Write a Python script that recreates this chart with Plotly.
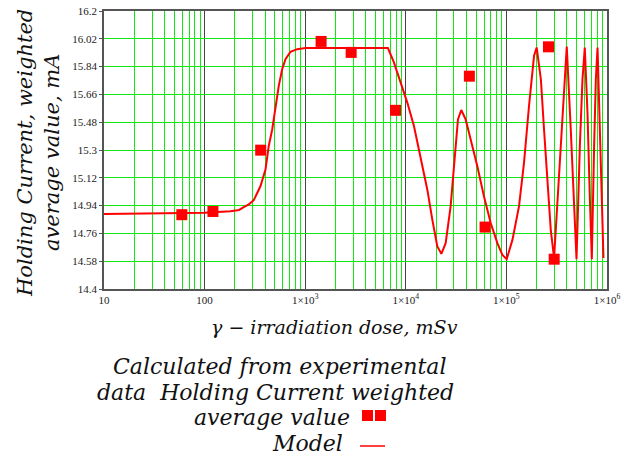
import plotly.graph_objects as go

# Measured (calculated from experiment) holding current, weighted average, mA
exp_dose = [59.4, 121, 361, 1439, 2864, 7909, 42850, 61350, 262000, 298500]
exp_current = [14.881, 14.902, 15.299, 16.003, 15.932, 15.557, 15.778, 14.801, 15.968, 14.593]

# Model curve samples
model_dose = [10, 30, 100, 181, 220, 245, 275, 308, 359, 403, 434, 470, 507, 546, 590, 637, 714,
              832, 1007, 6640, 7620, 8880, 10350, 12050, 14040, 16370, 18360, 20580, 22550, 24900,
              27900, 30600, 33000, 35600, 39350, 44150, 51400, 59800, 69800, 81300, 91200,
              100700, 114800, 133400, 149600, 167800, 188300, 200000, 220100, 236600, 255800,
              276100, 297800, 333700, 360600, 382800, 398100, 436400, 470900, 497700, 537000,
              570600, 601300, 639700, 674500, 706300, 744700, 774500, 805300, 853800, 901600,
              922600]
model_current = [14.886, 14.889, 14.893, 14.903, 14.912, 14.93, 14.948, 14.975, 15.065, 15.173,
                 15.325, 15.433, 15.585, 15.715, 15.823, 15.888, 15.936, 15.953, 15.96, 15.96,
                 15.867, 15.737, 15.607, 15.455, 15.26, 15.043, 14.848, 14.675, 14.628, 14.697,
                 14.935, 15.26, 15.498, 15.559, 15.498, 15.368, 15.195, 15.0, 14.827, 14.697,
                 14.621, 14.593, 14.718, 14.935, 15.217, 15.585, 15.91, 15.964, 15.758, 15.433,
                 15.108, 14.783, 14.6, 15.152, 15.542, 15.823, 15.97, 15.433, 14.892, 14.593,
                 15.325, 15.758, 15.964, 15.542, 15.0, 14.593, 15.325, 15.758, 15.964, 15.433,
                 14.892, 14.6]

y_ticks = [14.4, 14.58, 14.76, 14.94, 15.12, 15.3, 15.48, 15.66, 15.84, 16.02, 16.2]
y_tick_text = ["14.4", "14.58", "14.76", "14.94", "15.12", "15.3", "15.48", "15.66", "15.84", "16.02", "16.2"]
x_ticks = [10, 100, 1e3, 1e4, 1e5, 1e6]
x_tick_text = ["10", "100", "1×10<sup>3</sup>", "1×10<sup>4</sup>", "1×10<sup>5</sup>", "1×10<sup>6</sup>"]

GREEN = "#10e810"
RED = "#ff0000"
SERIF = "DejaVu Serif"
TICKFONT = dict(family="Liberation Serif", size=11, color="#222222")

fig = go.Figure()
fig.add_trace(go.Scatter(x=model_dose, y=model_current, mode="lines",
                         line=dict(color=RED, width=2),
                         showlegend=False))
fig.add_trace(go.Scatter(x=exp_dose, y=exp_current, mode="markers",
                         marker=dict(symbol="square", size=11, color=RED),
                         showlegend=False))

fig.update_layout(
    width=624, height=461,
    margin=dict(l=104, r=17, t=11, b=172),
    paper_bgcolor="white", plot_bgcolor="white",
    xaxis=dict(type="log", range=[1, 6], tickvals=x_ticks, ticktext=x_tick_text,
               tickfont=TICKFONT, showgrid=True, gridcolor="#444444", gridwidth=1,
               minor=dict(dtick="D1", showgrid=True, gridcolor=GREEN, gridwidth=1, ticks=""),
               showline=True, linecolor="#555555", linewidth=1.5, mirror=True,
               ticks="", zeroline=False, automargin=False),
    yaxis=dict(range=[14.4, 16.2], tickvals=y_ticks, ticktext=y_tick_text,
               tickfont=TICKFONT, showgrid=True, gridcolor=GREEN, gridwidth=1,
               showline=True, linecolor="#555555", linewidth=1.5, mirror=True,
               ticks="outside", ticklen=3, tickcolor="#555555", zeroline=False,
               automargin=False),
)

PW, PH = 503, 278  # plot area size in px, used to place the text blocks


def px(xp):
    return (xp - 104) / PW


def py(yp):
    return (289 - yp) / PH


fig.add_annotation(text="Holding Current, weighted<br>average value, mA",
                   xref="paper", yref="paper", x=px(39), y=py(153), textangle=-90,
                   showarrow=False, xanchor="center", yanchor="middle",
                   font=dict(family=SERIF, size=21, color="#111111", style="italic"))
fig.add_annotation(text="γ − irradiation dose, mSv",
                   xref="paper", yref="paper", x=px(334), y=py(327),
                   showarrow=False, xanchor="center", yanchor="middle",
                   font=dict(family=SERIF, size=19, color="#111111", style="italic"))

legend_font = dict(family=SERIF, size=22, color="#111111", style="italic")
fig.add_annotation(text="Calculated from experimental", xref="paper", yref="paper",
                   x=px(279), y=py(366), showarrow=False,
                   font=legend_font, xanchor="center", yanchor="middle")
fig.add_annotation(text="data  Holding Current weighted", xref="paper", yref="paper",
                   x=px(275), y=py(392), showarrow=False,
                   font=legend_font, xanchor="center", yanchor="middle")
fig.add_annotation(text="average value", xref="paper", yref="paper",
                   x=px(352), y=py(417), showarrow=False,
                   font=legend_font, xanchor="right", yanchor="middle")
fig.add_annotation(text="Model", xref="paper", yref="paper",
                   x=px(345), y=py(443), showarrow=False,
                   font=legend_font, xanchor="right", yanchor="middle")

# legend symbols: two squares for the data series, a short line for the model
for x0 in (362, 375):
    fig.add_shape(type="rect", xref="paper", yref="paper",
                  x0=px(x0), x1=px(x0 + 11), y0=py(421), y1=py(410),
                  fillcolor=RED, line=dict(width=0))
fig.add_shape(type="line", xref="paper", yref="paper",
              x0=px(360), x1=px(385), y0=py(446), y1=py(446),
              line=dict(color=RED, width=1.5))

fig.write_html("out.html")
